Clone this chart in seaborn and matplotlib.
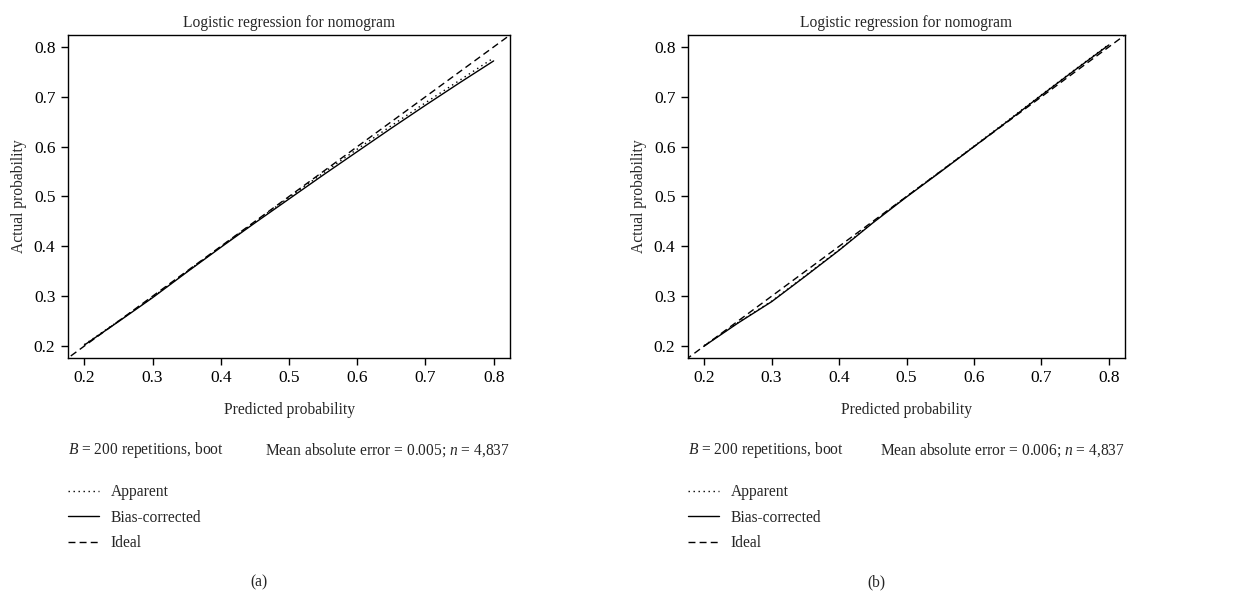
import numpy as np
import pandas as pd
import matplotlib
matplotlib.use('Agg')
import matplotlib.pyplot as plt
import seaborn as sns

# calibration curves
pred = [0.20, 0.25, 0.30, 0.35, 0.40, 0.45, 0.50, 0.55, 0.60, 0.65, 0.70, 0.75, 0.80]

apparent_a = [0.203, 0.250, 0.298, 0.349, 0.399, 0.449, 0.498, 0.547, 0.595, 0.642, 0.688, 0.733, 0.778]
biascorr_a = [0.202, 0.249, 0.297, 0.348, 0.398, 0.447, 0.495, 0.543, 0.590, 0.637, 0.683, 0.728, 0.772]

apparent_b = [0.201, 0.247, 0.290, 0.341, 0.393, 0.448, 0.500, 0.550, 0.601, 0.652, 0.704, 0.755, 0.805]
biascorr_b = [0.200, 0.246, 0.289, 0.340, 0.392, 0.447, 0.499, 0.549, 0.600, 0.651, 0.703, 0.754, 0.804]

ideal = [0.0, 1.0]

ticks = [0.2, 0.3, 0.4, 0.5, 0.6, 0.7, 0.8]
mae = ['0.005', '0.006']
captions = ['(a)', '(b)']
n_obs = '4,837'
reps = 200

sns.set_style('ticks')
plt.rcParams['font.family'] = ['Liberation Serif', 'DejaVu Serif']
plt.rcParams['mathtext.fontset'] = 'custom'
plt.rcParams['mathtext.rm'] = 'Liberation Serif'
plt.rcParams['mathtext.it'] = 'Liberation Serif:italic'
fs = 11.2
plt.rcParams['font.size'] = fs

W, H = 1237, 595
fig = plt.figure(figsize=(W / 100, H / 100), dpi=100)

# axes boxes in pixels: left, right, top, bottom
boxes = [(68, 510, 35, 358), (688, 1125, 35, 358)]
panels = [(apparent_a, biascorr_a), (apparent_b, biascorr_b)]

for i, ((l, r, t, b), (app, bc)) in enumerate(zip(boxes, panels)):
    ax = fig.add_axes([l / W, 1 - b / H, (r - l) / W, (b - t) / H])
    sns.lineplot(x=pred, y=app, ax=ax, color='black', lw=1, linestyle=(0, (1, 2.6)))
    sns.lineplot(x=pred, y=bc, ax=ax, color='black', lw=1, linestyle='-')
    sns.lineplot(x=ideal, y=ideal, ax=ax, color='black', lw=1, linestyle=(0, (5, 3)))
    ax.set_xlim(0.176, 0.824)
    ax.set_ylim(0.176, 0.824)
    ax.set_xticks(ticks)
    ax.set_yticks(ticks)
    ax.set_xticklabels([f'{v:.1f}' for v in ticks])
    ax.set_yticklabels([f'{v:.1f}' for v in ticks])
    ax.tick_params(direction='out', length=5, width=1, colors='black', labelsize=12.5, pad=4)
    for s in ax.spines.values():
        s.set_visible(True)
        s.set_color('black')
        s.set_linewidth(1)
    ax.set_title('Logistic regression for nomogram', fontsize=fs, pad=6)
    ax.set_xlabel('Predicted probability', fontsize=fs, labelpad=11)
    ax.set_ylabel('Actual probability', fontsize=fs, labelpad=5)

    fig.text(l / W, 1 - 450 / H, f'$B$ = {reps} repetitions, boot', ha='left', va='center', fontsize=fs)
    fig.text(r / W, 1 - 450 / H, f'Mean absolute error = {mae[i]}; $n$ = {n_obs}',
             ha='right', va='center', fontsize=fs)

    handles = ax.get_lines()[:3]
    fig.legend(handles, ['Apparent', 'Bias-corrected', 'Ideal'],
               loc='upper left', bbox_to_anchor=(l / W, 1 - 484 / H),
               frameon=False, borderpad=0, borderaxespad=0,
               handlelength=2.0, handletextpad=0.75, labelspacing=0.62, fontsize=fs)

    cx = (l + r) / 2 - 30
    fig.text(cx / W, 1 - 582 / H, captions[i], ha='center', va='center', fontsize=fs)

fig.savefig('out.png', dpi=100)
